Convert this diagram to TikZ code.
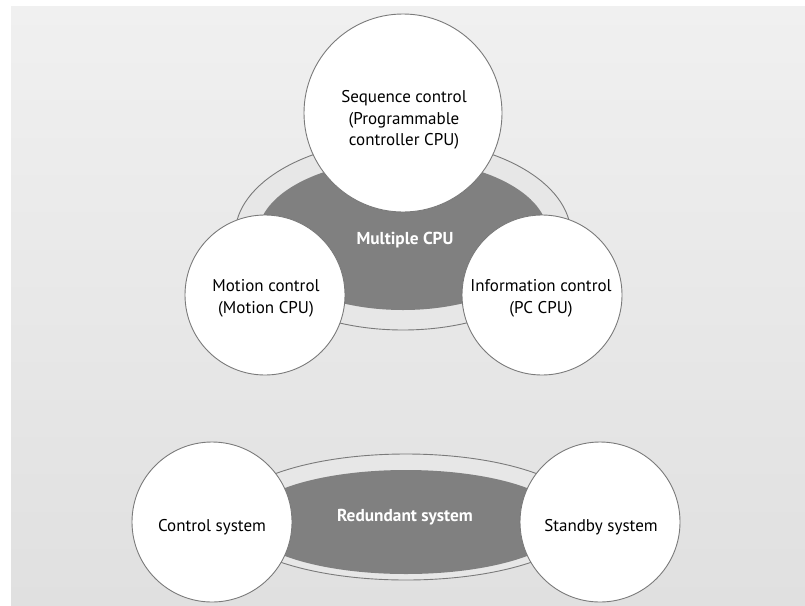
\documentclass[tikz,border=0pt]{standalone}
\usepackage{fontspec}
\setmainfont{PT Sans}
\usetikzlibrary{shapes.geometric}
\definecolor{bgtop}{HTML}{F0F0F0}
\definecolor{bgbot}{HTML}{E0E0E0}
\definecolor{ringfill}{HTML}{E7E7E7}
\definecolor{darkfill}{HTML}{808080}
\definecolor{edge}{HTML}{7A7A7A}
\tikzset{
  unit/.style={circle, draw=edge, line width=0.9pt, fill=white, inner sep=0pt, minimum size=160pt},
  bigunit/.style={unit, minimum size=198pt},
  ring/.style={ellipse, draw=edge, line width=0.9pt, fill=ringfill, inner sep=0pt},
  core/.style={ellipse, fill=darkfill, inner sep=0pt},
  lbl/.style={align=center, font=\fontsize{17}{21.7}\selectfont, text=black, inner sep=0pt},
  corelbl/.style={font=\fontsize{17.3}{21.7}\selectfont\bfseries, text=white, inner sep=0pt}
}
\begin{document}
\begin{tikzpicture}[x=1pt,y=-1pt]
\useasboundingbox (0,0) rectangle (805,605);
\fill[white] (0,0) rectangle (805,605);
\shade[top color=bgtop, bottom color=bgbot] (11,6) rectangle (805,605);
% top group
\node[ring, minimum width=336pt, minimum height=190pt] (mring) at (403,235) {};
\node[core, minimum width=290pt, minimum height=150pt] (mcore) at (403,235) {};
\node[corelbl] (mtxt) at (405,240) {Multiple CPU};
\node[bigunit] (seq) at (403,113) {};
\node[unit] (mot) at (265,295) {};
\node[unit] (inf) at (542,295) {};
\node[lbl] (seqtxt) at (404,120) {Sequence control\\(Programmable\\controller CPU)};
\node[lbl] (mottxt) at (266,298) {Motion control\\(Motion CPU)};
\node[lbl] (inftxt) at (541,298) {Information control\\(PC CPU)};
% bottom group
\node[ring, minimum width=360pt, minimum height=126pt] (rring) at (406,517) {};
\node[core, minimum width=320pt, minimum height=104pt] (rcore) at (406,522) {};
\node[corelbl] (rtxt) at (405,517) {Redundant system};
\node[unit] (ctl) at (212,522) {};
\node[unit] (sby) at (600,522) {};
\node[lbl] (ctltxt) at (212,527) {Control system};
\node[lbl] (sbytxt) at (601,527) {Standby system};
\end{tikzpicture}
\end{document}
